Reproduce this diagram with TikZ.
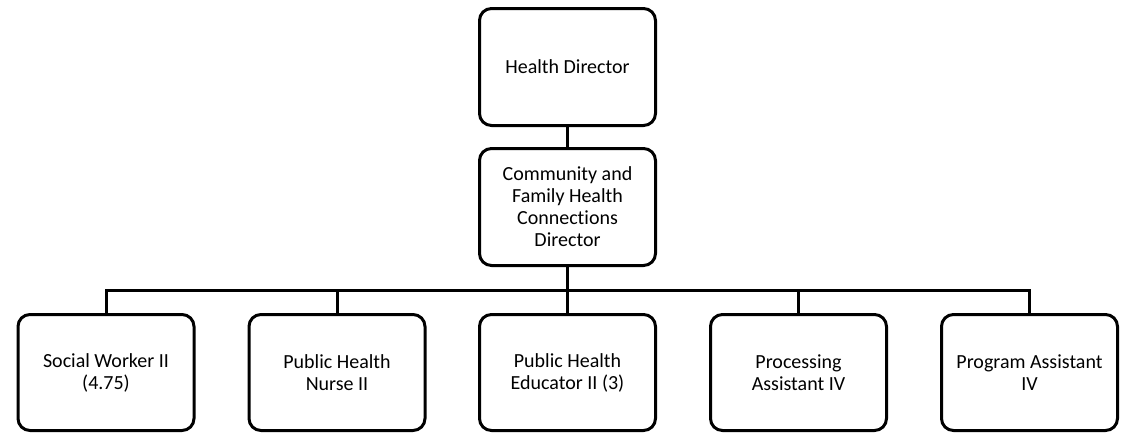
\documentclass[tikz,border=0pt]{standalone}
\usepackage{fontspec}
\setmainfont{Carlito}[Ligatures=CommonOff]
\begin{document}
\begin{tikzpicture}[x=1pt,y=-1pt,
  box/.style={draw, line width=3pt, rounded corners=12pt, minimum width=176pt,
    minimum height=117pt, align=center, inner sep=0pt,
    font=\fontsize{20}{22}\selectfont},
  conn/.style={line width=3pt}]
\useasboundingbox (0,0) rectangle (1125,434);
\node[box] (hd) at (567.5,67) {Health Director};
\node[box] (cf) at (567.5,207) {Community and\\Family Health\\Connections\\Director};
\node[box, minimum height=116pt] (c1) at (106,372.5) {Social Worker II\\(4.75)};
\node[box, minimum height=116pt] (c2) at (337,372.5) {Public Health\\Nurse II};
\node[box, minimum height=116pt] (c3) at (567.5,372.5) {Public Health\\Educator II (3)};
\node[box, minimum height=116pt] (c4) at (798.5,372.5) {Processing\\Assistant IV};
\node[box, minimum height=116pt] (c5) at (1029.5,372.5) {Program Assistant\\IV};
\coordinate (bus) at (567.5,290);
\draw[conn] (hd.south) -- (cf.north);
\draw[conn] (cf.south) -- (c3.north);
\draw[conn] (bus) -| (c1.north);
\draw[conn] (bus) -| (c2.north);
\draw[conn] (bus) -| (c4.north);
\draw[conn] (bus) -| (c5.north);
\end{tikzpicture}
\end{document}
